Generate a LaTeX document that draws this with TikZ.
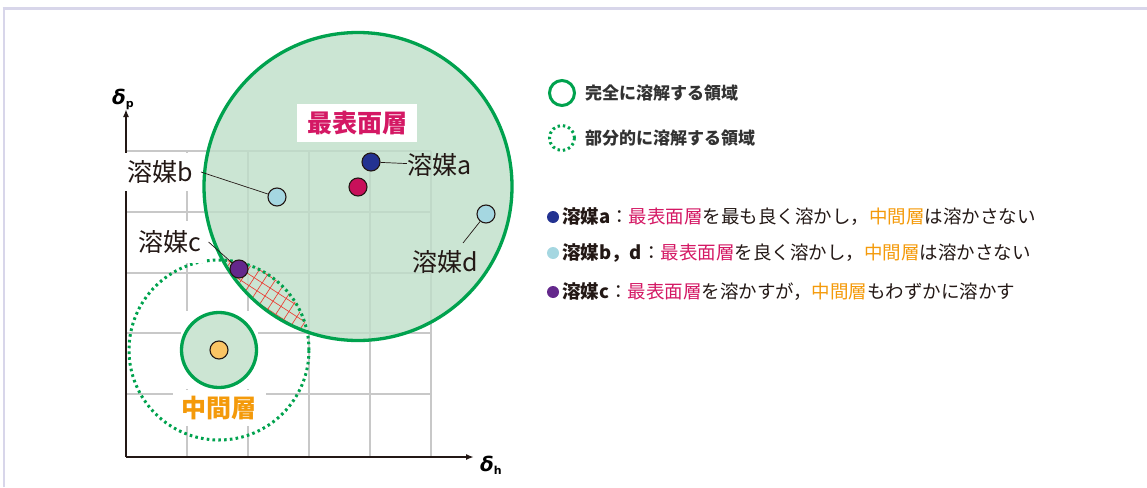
\documentclass[tikz,border=0pt]{standalone}
\usepackage{fontspec}
\setmainfont{Noto Sans CJK JP}
\newfontfamily\dejavu{DejaVu Sans}
\usetikzlibrary{arrows.meta,calc}
\definecolor{frameC}{RGB}{216,214,234}
\definecolor{gridC}{RGB}{200,200,200}
\definecolor{txtC}{RGB}{35,24,21}
\definecolor{legC}{RGB}{50,50,50}
\definecolor{grn}{RGB}{0,162,78}
\definecolor{bigfill}{RGB}{190,222,200}
\definecolor{smallfill}{RGB}{204,229,211}
\definecolor{mag}{RGB}{212,24,100}
\definecolor{org}{RGB}{244,154,10}
\definecolor{hatchC}{RGB}{235,60,50}
\definecolor{dkblue}{RGB}{35,50,145}
\definecolor{ltblue}{RGB}{165,215,225}
\definecolor{purp}{RGB}{100,40,140}
\definecolor{reddot}{RGB}{200,16,90}
\definecolor{orgdot}{RGB}{250,196,100}
\begin{document}
\begin{tikzpicture}[x=1pt,y=-1pt,
  gridline/.style={draw=gridC, line width=1.4pt},
  axisline/.style={draw=txtC, line width=2.2pt, -{Latex[length=8pt,width=6pt]}},
  soldot/.style={circle, draw=txtC, line width=1.1pt, minimum size=18pt, inner sep=0pt},
  lbl/.style={font=\fontsize{25}{30}\selectfont, text=txtC, inner sep=1pt},
  leader/.style={draw=txtC, line width=0.7pt},
  solidring/.style={draw=grn, line width=3.3pt},
  dotring/.style={draw=grn, line width=3pt, dash pattern=on 2.6pt off 3.2pt},
  legtxt/.style={anchor=west, font=\fontsize{17}{20}\selectfont\bfseries, text=legC, inner sep=0pt},
  bultxt/.style={anchor=west, font=\fontsize{18.5}{22}\selectfont, text=txtC, inner sep=0pt},
  bulldot/.style={circle, minimum size=12pt, inner sep=0pt, draw=none}
]
\useasboundingbox (0,0) rectangle (1147,487);
% frame
\draw[frameC, line width=2.6pt] (4,487) -- (4,8.5);
\draw[frameC, line width=3pt] (2.7,8.5) -- (1147,8.5);
% grid
\foreach \gx in {187,248,309,370,431} \draw[gridline] (\gx,151) -- (\gx,457);
\foreach \gy in {151,212,273,333,394} \draw[gridline] (126,\gy) -- (431,\gy);
% axes
\coordinate (O) at (126,457);
\coordinate (Ytip) at (126,109);
\coordinate (Xtip) at (474,457);
\draw[axisline] (O) -- (Ytip);
\draw[axisline] (O) -- (Xtip);
% big circle fill
\fill[bigfill, fill opacity=0.8] (358,186.5) circle (154pt);
% white boxes hiding grid
\fill[white] (181,311) rectangle (258,389);
% small circle
\filldraw[fill=smallfill, solidring] (219,350) circle (37.5pt);
% hatching in the lens
\begin{scope}
  \clip (358,186.5) circle (154pt);
  \clip (219,350) circle (90pt);
  \foreach \k in {-12,...,12} {
    \draw[hatchC, line width=0.65pt]
      ($(265,296)+\k*9.5*(-0.545,0.839)+(-120*0.839,-120*0.545)$) -- ($(265,296)+\k*9.5*(-0.545,0.839)+(120*0.839,120*0.545)$);
    \draw[hatchC, line width=0.65pt]
      ($(265,296)+\k*9.5*(0.839,0.545)+(120*0.545,-120*0.839)$) -- ($(265,296)+\k*9.5*(0.839,0.545)+(-120*0.545,120*0.839)$);
  }
\end{scope}
% rings
\draw[solidring] (358,186.5) circle (154pt);
\draw[dotring] (219,350) circle (90pt);
% region labels
\node[fill=white, inner xsep=10pt, inner ysep=7.5pt, font=\fontsize{25}{30}\selectfont\bfseries, text=mag] (top) at (357,123) {最表面層};
\node[fill=white, inner xsep=9pt, inner ysep=6pt, font=\fontsize{25}{30}\selectfont\bfseries, text=org] (mid) at (219,408) {中間層};
% solvent labels
\node[lbl, fill=white, inner xsep=5pt, inner ysep=7pt] (lb) at (160,172) {溶媒b};
\node[lbl, fill=white, inner xsep=5pt, inner ysep=9pt] (lc) at (170,242) {溶媒c};
\node[lbl] (la) at (440,165) {溶媒a};
\node[lbl] (ld) at (445,262) {溶媒d};
% dots
\node[soldot, fill=dkblue] (da) at (371,162) {};
\node[soldot, fill=reddot] (dr) at (358,187) {};
\node[soldot, fill=ltblue] (db) at (277,197) {};
\node[soldot, fill=ltblue] (dd) at (486,214) {};
\node[soldot, fill=purp] (dc) at (239,269) {};
\node[soldot, fill=orgdot] (do) at (219,350) {};
% leaders
\draw[leader] (da) -- (la);
\draw[leader] ([xshift=3pt]lb.east) -- (db);
\draw[leader] ([xshift=2pt]lc.east) -- (dc);
\coordinate (dend) at (463,243);
\draw[leader] (dd) -- (dend);
% axis labels
\node[inner sep=0pt] (dp) at (123,99) {{\fontsize{20}{20}\selectfont\dejavu\bfseries\itshape δ}{\fontsize{11}{11}\selectfont\dejavu\bfseries\raisebox{-3pt}{p}}};
\node[inner sep=0pt] (dh) at (491,465) {{\fontsize{20}{20}\selectfont\dejavu\bfseries\itshape δ}{\fontsize{11}{11}\selectfont\dejavu\bfseries\raisebox{-3pt}{h}}};
% legend
\draw[solidring, line width=3pt] (562,93) circle (12.5pt);
\node[legtxt] (l1) at (585,93) {完全に溶解する領域};
\draw[dotring, line width=3pt, dash pattern=on 2.4pt off 3pt] (562,138) circle (12.5pt);
\node[legtxt] (l2) at (585,138) {部分的に溶解する領域};
% bullets
\node[bulldot, fill=dkblue] (b1) at (553,217) {};
\node[bultxt] (t1) at (562,217) {{\bfseries 溶媒a}：{\color{mag}最表面層}を最も良く溶かし，{\color{org}中間層}は溶かさない};
\node[bulldot, fill=ltblue] (b2) at (553,253) {};
\node[bultxt] (t2) at (562,253) {{\bfseries 溶媒b，d}：{\color{mag}最表面層}を良く溶かし，{\color{org}中間層}は溶かさない};
\node[bulldot, fill=purp] (b3) at (553,292) {};
\node[bultxt] (t3) at (562,292) {{\bfseries 溶媒c}：{\color{mag}最表面層}を溶かすが，{\color{org}中間層}もわずかに溶かす};
\end{tikzpicture}
\end{document}
